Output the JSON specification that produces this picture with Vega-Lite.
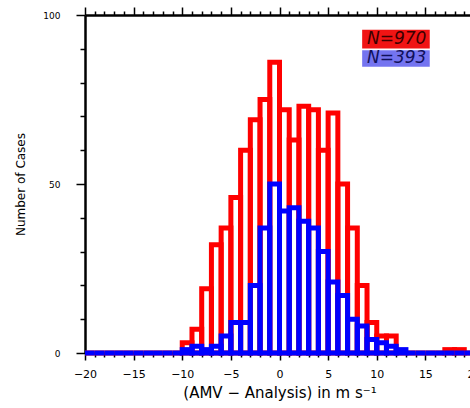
{
  "$schema": "https://vega.github.io/schema/vega-lite/v6.json",
  "width": 389,
  "height": 338,
  "autosize": {"type": "none"},
  "padding": {"left": 85, "top": 15, "right": -4, "bottom": 55},
  "background": "white",
  "config": {"view": {"stroke": null}, "font": "DejaVu Sans"},
  "datasets": {
    "hist": [
      {"group": "N=970", "bin_start": -20, "bin_end": -19, "count": 0},
      {"group": "N=970", "bin_start": -19, "bin_end": -18, "count": 0},
      {"group": "N=970", "bin_start": -18, "bin_end": -17, "count": 0},
      {"group": "N=970", "bin_start": -17, "bin_end": -16, "count": 0},
      {"group": "N=970", "bin_start": -16, "bin_end": -15, "count": 0},
      {"group": "N=970", "bin_start": -15, "bin_end": -14, "count": 0},
      {"group": "N=970", "bin_start": -14, "bin_end": -13, "count": 0},
      {"group": "N=970", "bin_start": -13, "bin_end": -12, "count": 0},
      {"group": "N=970", "bin_start": -12, "bin_end": -11, "count": 0},
      {"group": "N=970", "bin_start": -11, "bin_end": -10, "count": 0},
      {"group": "N=970", "bin_start": -10, "bin_end": -9, "count": 3},
      {"group": "N=970", "bin_start": -9, "bin_end": -8, "count": 7},
      {"group": "N=970", "bin_start": -8, "bin_end": -7, "count": 19},
      {"group": "N=970", "bin_start": -7, "bin_end": -6, "count": 32},
      {"group": "N=970", "bin_start": -6, "bin_end": -5, "count": 37},
      {"group": "N=970", "bin_start": -5, "bin_end": -4, "count": 46},
      {"group": "N=970", "bin_start": -4, "bin_end": -3, "count": 60},
      {"group": "N=970", "bin_start": -3, "bin_end": -2, "count": 69},
      {"group": "N=970", "bin_start": -2, "bin_end": -1, "count": 75},
      {"group": "N=970", "bin_start": -1, "bin_end": 0, "count": 86},
      {"group": "N=970", "bin_start": 0, "bin_end": 1, "count": 72},
      {"group": "N=970", "bin_start": 1, "bin_end": 2, "count": 63},
      {"group": "N=970", "bin_start": 2, "bin_end": 3, "count": 73},
      {"group": "N=970", "bin_start": 3, "bin_end": 4, "count": 72},
      {"group": "N=970", "bin_start": 4, "bin_end": 5, "count": 60},
      {"group": "N=970", "bin_start": 5, "bin_end": 6, "count": 71},
      {"group": "N=970", "bin_start": 6, "bin_end": 7, "count": 50},
      {"group": "N=970", "bin_start": 7, "bin_end": 8, "count": 37},
      {"group": "N=970", "bin_start": 8, "bin_end": 9, "count": 20},
      {"group": "N=970", "bin_start": 9, "bin_end": 10, "count": 9},
      {"group": "N=970", "bin_start": 10, "bin_end": 11, "count": 5},
      {"group": "N=970", "bin_start": 11, "bin_end": 12, "count": 5},
      {"group": "N=970", "bin_start": 12, "bin_end": 13, "count": 0},
      {"group": "N=970", "bin_start": 13, "bin_end": 14, "count": 0},
      {"group": "N=970", "bin_start": 14, "bin_end": 15, "count": 0},
      {"group": "N=970", "bin_start": 15, "bin_end": 16, "count": 0},
      {"group": "N=970", "bin_start": 16, "bin_end": 17, "count": 0},
      {"group": "N=970", "bin_start": 17, "bin_end": 18, "count": 1},
      {"group": "N=970", "bin_start": 18, "bin_end": 19, "count": 1},
      {"group": "N=970", "bin_start": 19, "bin_end": 20, "count": 0},
      {"group": "N=393", "bin_start": -20, "bin_end": -19, "count": 0},
      {"group": "N=393", "bin_start": -19, "bin_end": -18, "count": 0},
      {"group": "N=393", "bin_start": -18, "bin_end": -17, "count": 0},
      {"group": "N=393", "bin_start": -17, "bin_end": -16, "count": 0},
      {"group": "N=393", "bin_start": -16, "bin_end": -15, "count": 0},
      {"group": "N=393", "bin_start": -15, "bin_end": -14, "count": 0},
      {"group": "N=393", "bin_start": -14, "bin_end": -13, "count": 0},
      {"group": "N=393", "bin_start": -13, "bin_end": -12, "count": 0},
      {"group": "N=393", "bin_start": -12, "bin_end": -11, "count": 0},
      {"group": "N=393", "bin_start": -11, "bin_end": -10, "count": 0},
      {"group": "N=393", "bin_start": -10, "bin_end": -9, "count": 1},
      {"group": "N=393", "bin_start": -9, "bin_end": -8, "count": 2},
      {"group": "N=393", "bin_start": -8, "bin_end": -7, "count": 1},
      {"group": "N=393", "bin_start": -7, "bin_end": -6, "count": 2},
      {"group": "N=393", "bin_start": -6, "bin_end": -5, "count": 5},
      {"group": "N=393", "bin_start": -5, "bin_end": -4, "count": 9},
      {"group": "N=393", "bin_start": -4, "bin_end": -3, "count": 9},
      {"group": "N=393", "bin_start": -3, "bin_end": -2, "count": 20},
      {"group": "N=393", "bin_start": -2, "bin_end": -1, "count": 37},
      {"group": "N=393", "bin_start": -1, "bin_end": 0, "count": 50},
      {"group": "N=393", "bin_start": 0, "bin_end": 1, "count": 42},
      {"group": "N=393", "bin_start": 1, "bin_end": 2, "count": 43},
      {"group": "N=393", "bin_start": 2, "bin_end": 3, "count": 39},
      {"group": "N=393", "bin_start": 3, "bin_end": 4, "count": 37},
      {"group": "N=393", "bin_start": 4, "bin_end": 5, "count": 30},
      {"group": "N=393", "bin_start": 5, "bin_end": 6, "count": 21},
      {"group": "N=393", "bin_start": 6, "bin_end": 7, "count": 17},
      {"group": "N=393", "bin_start": 7, "bin_end": 8, "count": 10},
      {"group": "N=393", "bin_start": 8, "bin_end": 9, "count": 8},
      {"group": "N=393", "bin_start": 9, "bin_end": 10, "count": 4},
      {"group": "N=393", "bin_start": 10, "bin_end": 11, "count": 3},
      {"group": "N=393", "bin_start": 11, "bin_end": 12, "count": 2},
      {"group": "N=393", "bin_start": 12, "bin_end": 13, "count": 1},
      {"group": "N=393", "bin_start": 13, "bin_end": 14, "count": 0},
      {"group": "N=393", "bin_start": 14, "bin_end": 15, "count": 0},
      {"group": "N=393", "bin_start": 15, "bin_end": 16, "count": 0},
      {"group": "N=393", "bin_start": 16, "bin_end": 17, "count": 0},
      {"group": "N=393", "bin_start": 17, "bin_end": 18, "count": 0},
      {"group": "N=393", "bin_start": 18, "bin_end": 19, "count": 0},
      {"group": "N=393", "bin_start": 19, "bin_end": 20, "count": 0}
    ]
  },
  "layer": [
    {
      "data": {"name": "hist"},
      "mark": {"type": "rect", "filled": false, "strokeWidth": 5, "strokeJoin": "miter", "strokeOpacity": 1},
      "encoding": {
        "x": {
          "field": "bin_start", "type": "quantitative",
          "scale": {"domain": [-20, 20], "nice": false, "zero": false},
          "axis": {
            "orient": "bottom",
            "values": [-20,-19,-18,-17,-16,-15,-14,-13,-12,-11,-10,-9,-8,-7,-6,-5,-4,-3,-2,-1,0,1,2,3,4,5,6,7,8,9,10,11,12,13,14,15,16,17,18,19,20],
            "labelExpr": "datum.value % 5 === 0 ? datum.label : ''",
            "tickSize": {"condition": {"test": "datum.value % 5 === 0", "value": 7}, "value": 4},
            "tickColor": "black", "tickWidth": 1.5,
            "domainColor": "black", "domainWidth": 2.5,
            "labelFontSize": 11, "labelColor": "black", "labelPadding": 8,
            "labelFlush": false, "labelOverlap": false, "labelBound": false,
            "grid": false,
            "title": "(AMV − Analysis) in m s⁻¹",
            "titleFontSize": 15, "titleFontWeight": "normal", "titleColor": "black", "titlePadding": 6
          }
        },
        "x2": {"field": "bin_end"},
        "y": {
          "field": "count", "type": "quantitative",
          "scale": {"domain": [0, 100], "nice": false},
          "axis": {
            "orient": "left",
            "values": [0,10,20,30,40,50,60,70,80,90,100],
            "labelExpr": "datum.value % 50 === 0 ? datum.label : ''",
            "tickSize": {"condition": {"test": "datum.value % 50 === 0", "value": 9}, "value": 5},
            "tickColor": "black", "tickWidth": 1.5,
            "domainColor": "black", "domainWidth": 2.5,
            "labelFontSize": 9, "labelColor": "black", "labelPadding": 16,
            "labelOverlap": false, "labelBound": false, "labelFlush": false,
            "grid": false,
            "title": "Number of Cases",
            "titleFontSize": 12, "titleFontWeight": "normal", "titleColor": "black", "titlePadding": 15
          }
        },
        "y2": {"datum": 0},
        "color": {
          "field": "group", "type": "nominal",
          "scale": {"domain": ["N=970", "N=393"], "range": ["#ff0000", "#0000ff"]},
          "legend": null
        }
      }
    },
    {
      "data": {"values": [{}]},
      "mark": {"type": "rect", "fill": "#f01414"},
      "encoding": {
        "x": {
          "datum": 8.5, "type": "quantitative",
          "axis": {
            "orient": "top",
            "values": [-20,-19,-18,-17,-16,-15,-14,-13,-12,-11,-10,-9,-8,-7,-6,-5,-4,-3,-2,-1,0,1,2,3,4,5,6,7,8,9,10,11,12,13,14,15,16,17,18,19,20],
            "labels": false,
            "tickSize": {"condition": {"test": "datum.value % 5 === 0", "value": 8}, "value": 4},
            "tickColor": "black", "tickWidth": 1.5,
            "domainColor": "black", "domainWidth": 2.5,
            "grid": false, "title": null
          }
        },
        "x2": {"datum": 15.45},
        "y": {"datum": 90.1, "type": "quantitative", "axis": null},
        "y2": {"datum": 95.6}
      }
    },
    {
      "data": {"values": [{}]},
      "mark": {"type": "rect", "fill": "#7474f0"},
      "encoding": {
        "x": {"datum": 8.5, "type": "quantitative", "axis": null},
        "x2": {"datum": 15.45},
        "y": {"datum": 84.7, "type": "quantitative", "axis": null},
        "y2": {"datum": 89.6}
      }
    },
    {
      "data": {"values": [{}]},
      "mark": {"type": "text", "align": "left", "baseline": "middle", "fontStyle": "italic", "fontSize": 17, "color": "#3a0000"},
      "encoding": {
        "x": {"datum": 9.0, "type": "quantitative", "axis": null},
        "y": {"datum": 92.9, "type": "quantitative", "axis": null},
        "text": {"value": "N=970"}
      }
    },
    {
      "data": {"values": [{}]},
      "mark": {"type": "text", "align": "left", "baseline": "middle", "fontStyle": "italic", "fontSize": 17, "color": "#10105a"},
      "encoding": {
        "x": {"datum": 9.0, "type": "quantitative", "axis": null},
        "y": {"datum": 87.2, "type": "quantitative", "axis": null},
        "text": {"value": "N=393"}
      }
    }
  ],
  "resolve": {"axis": {"x": "independent", "y": "independent"}}
}
